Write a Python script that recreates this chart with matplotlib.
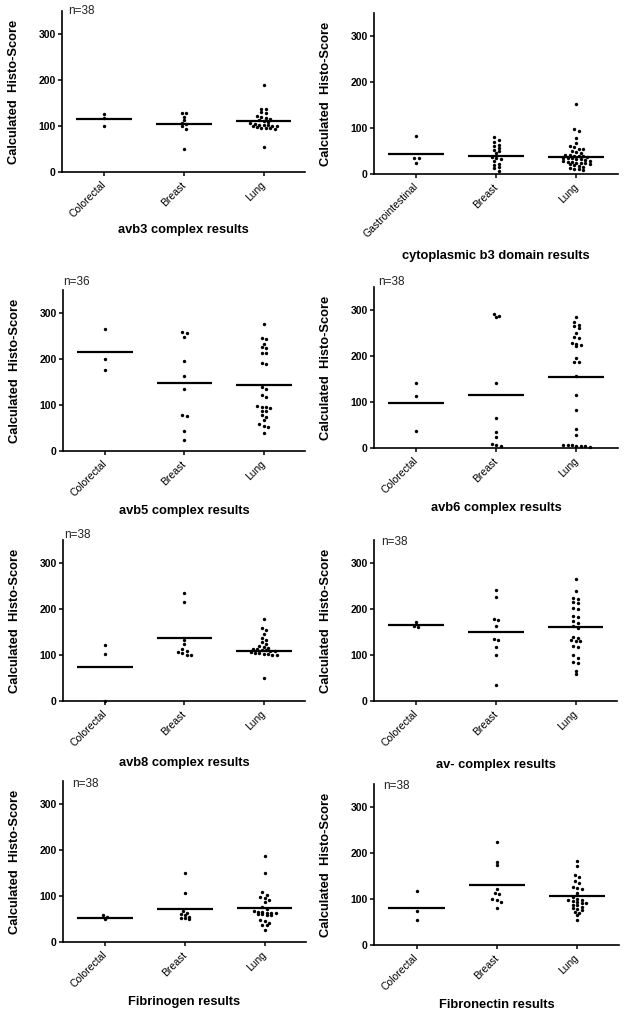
import matplotlib
matplotlib.use("Agg")
import matplotlib.pyplot as plt
import numpy as np

plt.rcParams['font.family'] = ['Liberation Sans', 'DejaVu Sans']

cats = ["Colorectal", "Breast", "Lung"]
cats_cyto = ["Gastrointestinal", "Breast", "Lung"]

# values (histo-scores), one list per group
avb3_colorectal = [126, 117, 101]
avb3_breast = [128, 128, 120, 113, 106, 104, 99, 93, 50]
avb3_lung = [189, 138, 138, 130, 128, 121, 120, 118, 115, 113, 110, 108, 106,
             104, 103, 102, 102, 101, 100, 99, 97, 96, 95, 95, 94, 54]
avb3_means = [115, 104, 111.5]

cyto_gi = [82, 35, 34, 25]
cyto_breast = [80, 74, 70, 64, 60, 57, 52, 49, 45, 38, 34, 33, 28, 22, 20, 16, 12, 6]
cyto_lung = [152, 97, 93, 78, 67, 60, 59, 55, 54, 50, 48, 46, 42, 41, 40, 40, 39, 36,
             35, 34, 34, 33, 32, 30, 29, 28, 27, 26, 24, 23, 23, 22, 21, 19, 17, 15,
             12, 11, 10, 9]
cyto_means = [44, 40, 37.5]

avb5_colorectal = [266, 201, 176]
avb5_breast = [259, 256, 247, 196, 162, 135, 78, 77, 43, 23]
avb5_lung = [275, 246, 243, 233, 226, 223, 213, 212, 192, 190, 140, 134, 122, 118,
             97, 96, 95, 94, 87, 86, 79, 75, 68, 59, 55, 53, 40]
avb5_means = [215, 147.5, 143]

avb6_colorectal = [142, 112, 38]
avb6_breast = [291, 287, 284, 141, 65, 35, 24, 9, 7, 5]
avb6_lung = [284, 273, 268, 266, 260, 249, 242, 240, 228, 226, 224, 221, 195, 188,
             186, 157, 116, 82, 42, 29, 7, 7, 7, 5, 4, 4, 3]
avb6_means = [97.5, 115.5, 155]

avb8_colorectal = [122, 102, 0]
avb8_breast = [234, 216, 132, 125, 113, 108, 106, 104, 101, 100]
avb8_lung = [179, 159, 155, 145, 138, 132, 128, 124, 120, 117, 115, 113, 112, 111,
             110, 109, 108, 106, 105, 104, 103, 102, 101, 100, 50]
avb8_means = [75, 136, 109.5]

av_colorectal = [172, 164, 161]
av_breast = [242, 227, 178, 176, 162, 134, 133, 118, 100, 35]
av_lung = [265, 240, 224, 221, 216, 213, 203, 201, 185, 183, 175, 170, 162, 158,
           140, 136, 132, 131, 130, 120, 118, 99, 93, 84, 82, 65, 58]
av_means = [165.5, 150, 161]

fbg_colorectal = [59, 54, 49]
fbg_breast = [150, 106, 68, 64, 60, 58, 55, 53, 52, 49]
fbg_lung = [187, 149, 109, 103, 97, 96, 92, 88, 76, 71, 68, 66, 65, 64, 63, 62, 61,
            60, 59, 58, 48, 46, 42, 38, 36, 26]
fbg_means = [53, 71.5, 75]

fbn_colorectal = [117, 73, 54]
fbn_breast = [223, 181, 174, 121, 114, 111, 100, 97, 94, 80]
fbn_lung = [183, 172, 152, 147, 139, 135, 126, 124, 121, 114, 104, 99, 98, 97, 96,
            93, 92, 91, 88, 86, 82, 80, 78, 77, 72, 70, 65, 54]
fbn_means = [81, 130, 106]

titles = ["avb3 complex results", "cytoplasmic b3 domain results",
          "avb5 complex results", "avb6 complex results",
          "avb8 complex results", "av- complex results",
          "Fibrinogen results", "Fibronectin results"]
n_labels = ["n=38", "", "n=36", "n=38", "n=38", "n=38", "n=38", "n=38"]

panels = [
    (cats, [avb3_colorectal, avb3_breast, avb3_lung], avb3_means),
    (cats_cyto, [cyto_gi, cyto_breast, cyto_lung], cyto_means),
    (cats, [avb5_colorectal, avb5_breast, avb5_lung], avb5_means),
    (cats, [avb6_colorectal, avb6_breast, avb6_lung], avb6_means),
    (cats, [avb8_colorectal, avb8_breast, avb8_lung], avb8_means),
    (cats, [av_colorectal, av_breast, av_lung], av_means),
    (cats, [fbg_colorectal, fbg_breast, fbg_lung], fbg_means),
    (cats, [fbn_colorectal, fbn_breast, fbn_lung], fbn_means),
]

# layout in pixels: left, top, right, bottom of each plot area
W, H = 626, 1016
boxes = [(62, 11, 305, 172), (374, 13, 618, 174),
         (63, 290, 305, 451), (374, 287, 618, 448),
         (63, 540, 305, 701), (374, 540, 617, 701),
         (63, 781, 306, 942), (374, 784, 619, 945)]
n_offsets = [(6, 0), (0, 0), (0, 8), (4, 5), (1, 5), (7, -2), (9, -3), (9, -2)]
xlabel_y = [-0.36, -0.51, -0.373, -0.373, -0.385, -0.397, -0.373, -0.373]


def swarm_x(vals, pos, bin_w=6.5, dx=0.055):
    # spread points with close values side by side, like a column scatter
    v = np.asarray(vals, float)
    order = np.argsort(-v)
    vs = v[order]
    xs = np.zeros(len(vs))
    i = 0
    while i < len(vs):
        j = i
        while j + 1 < len(vs) and vs[i] - vs[j + 1] < bin_w:
            j += 1
        k = j - i + 1
        xs[i:j + 1] = pos + (np.arange(k) - (k - 1) / 2.0) * dx
        i = j + 1
    out = np.empty(len(vs))
    out[order] = xs
    return out


fig = plt.figure(figsize=(W / 100.0, H / 100.0), dpi=100)

for idx in range(8):
    labels, groups, means = panels[idx]
    l, t, r, b = boxes[idx]
    ax = fig.add_axes([l / W, 1 - b / H, (r - l) / W, (b - t) / H])

    for g, vals in enumerate(groups):
        ax.scatter(swarm_x(vals, g), vals, s=6, color='black', linewidths=0,
                   zorder=3, clip_on=False)
        ax.plot([g - 0.35, g + 0.35], [means[g], means[g]], color='black', lw=1.6,
                solid_capstyle='butt', zorder=2)

    ax.set_xlim(-0.53, 2.52)
    ax.set_ylim(0, 350)
    ax.set_yticks([0, 100, 200, 300])
    ax.set_xticks([0, 1, 2])
    ax.set_xticklabels(labels, rotation=45, ha='right', va='center',
                       rotation_mode='anchor', fontsize=7.5)
    for lab in ax.get_yticklabels():
        lab.set_fontweight('bold')
        lab.set_fontsize(7.5)
    ax.tick_params(axis='both', length=3, width=1.1, pad=1.5)
    ax.tick_params(axis='x', pad=5)
    ax.spines['top'].set_visible(False)
    ax.spines['right'].set_visible(False)
    ax.spines['left'].set_linewidth(1.2)
    ax.spines['bottom'].set_linewidth(1.2)

    ax.set_ylabel("Calculated  Histo-Score", fontsize=9.3, fontweight='bold')
    ax.yaxis.label.set_va('center')
    ax.yaxis.set_label_coords(-48.0 / (r - l), 0.5)
    ax.set_xlabel(titles[idx], fontsize=9.3, fontweight='bold')
    ax.xaxis.label.set_va('center')
    ax.xaxis.set_label_coords(0.5, xlabel_y[idx])

    if n_labels[idx]:
        ax.annotate(n_labels[idx], xy=(0, 1), xycoords='axes fraction',
                    xytext=n_offsets[idx], textcoords='offset pixels',
                    ha='left', va='center', fontsize=8.5, color='#222222')

fig.savefig("out.png", dpi=100)
